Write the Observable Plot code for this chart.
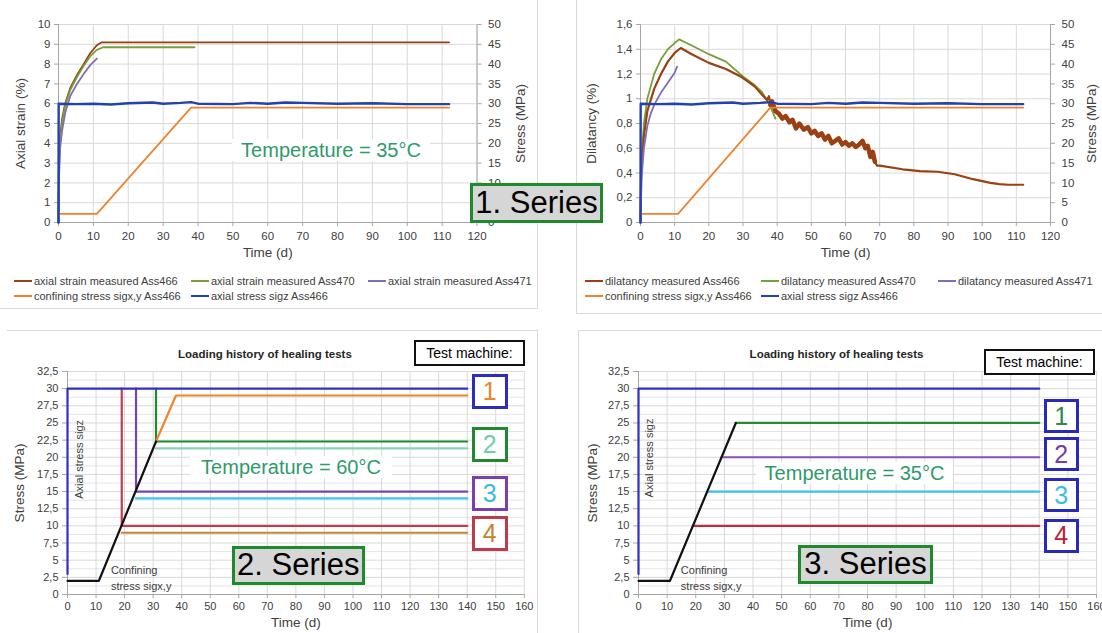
<!DOCTYPE html>
<html>
<head>
<meta charset="utf-8">
<script src="https://cdn.jsdelivr.net/npm/d3@7"></script>
<script src="https://cdn.jsdelivr.net/npm/@observablehq/plot@0.6"></script>
<style>
  html, body { margin: 0; padding: 0; background: #fff; }
  #figure { position: relative; width: 1102px; height: 633px; overflow: hidden; background: #fff;
            font-family: "Liberation Sans", Arial, Helvetica, sans-serif; }
  .chart { position: absolute; }
  .frame-line { position: absolute; background: #dadada; }
  .tag { position: absolute; box-sizing: border-box; display: flex; align-items: center;
         justify-content: center; white-space: nowrap; border-style: solid; }
  .note { position: absolute; background: #fff; text-align: center; white-space: nowrap;
          font-size: 20px; line-height: 22px; height: 22px; }
  .key { position: absolute; height: 14px; display: flex; align-items: center;
         font-size: 11px; color: #404040; white-space: nowrap; }
  .key i { display: block; width: 18px; height: 2px; margin-right: 2px; }
</style>
</head>
<body>
<div id="figure"></div>
<script>
// ---------------- Series 1: creep tests at 35 °C ----------------
const days120 = [0, 10, 20, 30, 40, 50, 60, 70, 80, 90, 100, 110, 120];
const strainTicks = [0, 1, 2, 3, 4, 5, 6, 7, 8, 9, 10];
const dilatancyTicks = [0, 0.2, 0.4, 0.6, 0.8, 1, 1.2, 1.4, 1.6];
const stressTicks50 = [0, 5, 10, 15, 20, 25, 30, 35, 40, 45, 50];

// [time (d), axial strain (%)]
const axialStrainAss466 = [[0,0],[0.1,2.6],[0.3,4.0],[1,5.2],[1.9,6.0],[3.4,6.8],[5.3,7.45],[7.2,8.0],[9.1,8.55],[11,8.95],[12.4,9.1],[112,9.1]];
const axialStrainAss470 = [[0,0],[0.1,2.4],[0.3,3.8],[1,5.0],[1.9,5.9],[3.4,6.7],[5.3,7.35],[7.2,7.9],[9.1,8.4],[11,8.72],[12.8,8.85],[39,8.85]];
const axialStrainAss471 = [[0,0],[0.1,2.0],[0.5,3.8],[1,4.6],[2,5.6],[3.4,6.4],[5.3,7.0],[7.2,7.5],[9.1,7.95],[11,8.28]];

// [time (d), dilatancy (%)]
const dilatancyAss466 = [[0,0],[0.2,0.4],[1,0.7],[2,0.9],[4,1.08],[6,1.2],[8,1.3],[10,1.37],[11.8,1.41],[15,1.36],[20,1.29],[25,1.24],[29.3,1.18],[33.4,1.1],[36,1.02],[37,0.99],[37.6,1.02],[38,0.95],[38.5,0.98],[39.5,0.9],[40.5,0.88],[41.5,0.84],[42.5,0.86],[43.6,0.81],[44.5,0.83],[45.5,0.76],[46.5,0.8],[47.8,0.75],[49,0.77],[50,0.72],[51,0.74],[52,0.7],[53,0.72],[54,0.67],[55,0.7],[56,0.64],[57,0.66],[58,0.68],[59,0.63],[60,0.65],[61,0.62],[62,0.64],[63,0.61],[64,0.63],[65,0.66],[65.8,0.6],[66.5,0.62],[67.3,0.53],[68,0.57],[68.6,0.49],[69.2,0.46],[70,0.46],[76.7,0.43],[81.8,0.415],[87,0.41],[92,0.39],[97.3,0.35],[102.4,0.32],[105,0.31],[107.6,0.305],[112,0.305]];
const dilatancyAss470 = [[0,0],[0.3,0.5],[1,0.8],[2,1.0],[4,1.2],[6,1.32],[8,1.4],[10,1.45],[11.3,1.48],[15,1.43],[20,1.36],[25,1.3],[30,1.18],[33,1.12],[35.4,1.06],[37,0.99],[38.1,0.93],[39.5,0.84]];
const dilatancyAss471 = [[0,0],[0.3,0.35],[1,0.6],[2,0.78],[3,0.88],[4,0.95],[6,1.05],[8,1.13],[10,1.21],[10.7,1.26]];

// [time (d), stress (MPa)] of test Ass466
const axialStressAss466 = [[0,0],[0.05,30],[5,29.9],[10,30],[15,29.8],[20,30.1],[27,30.3],[30,30],[35,30.2],[38,30.4],[40,30],[50,29.9],[55,30.2],[60,30],[65,30.3],[70,30.2],[80,30],[90,30.1],[100,29.9],[112,29.9]];
const confiningStressAss466 = [[0,2.2],[11,2.2],[38,29],[112,29]];

// ---------------- Series 2 (60 °C) and 3 (35 °C): loading histories ----------------
const days160 = [0, 10, 20, 30, 40, 50, 60, 70, 80, 90, 100, 110, 120, 130, 140, 150, 160];
const stressTicks325 = [0, 2.5, 5, 7.5, 10, 12.5, 15, 17.5, 20, 22.5, 25, 27.5, 30, 32.5];
const stressMinor = [1.25, 3.75, 6.25, 8.75, 11.25, 13.75, 16.25, 18.75, 21.25, 23.75, 26.25, 28.75, 31.25];

const s2AxialStress = [[0,3],[0,30],[140,30]];
const s2Confining = [[0,2],[11,2],[31,22.3]];
const s2Machine1 = [[31,22.3],[38,29],[140,29]];
const s2Machine2Axial = [[31,30],[31,22.3],[140,22.3]];
const s2Machine2Lateral = [[31,21.3],[140,21.3]];
const s2Machine3Axial = [[24,30],[24,15],[140,15]];
const s2Machine3Lateral = [[24,14],[140,14]];
const s2Machine4Axial = [[19,30],[19,10],[140,10]];
const s2Machine4Lateral = [[19,9],[140,9]];

const s3AxialStress = [[0,3],[0,30],[140,30]];
const s3Confining = [[0,2],[11,2],[34,25]];
const s3Machine1 = [[34,25],[140,25]];
const s3Machine2 = [[29,20],[140,20]];
const s3Machine3 = [[24,15],[140,15]];
const s3Machine4 = [[19,10],[140,10]];

const machineNumbers = ["1", "2", "3", "4"];

// ---------------- styling ----------------
const FONT = '"Liberation Sans", Arial, Helvetica, sans-serif';
const GRID = "#d9d9d9";
const AXIS = "#a6a6a6";
const INK = "#404040";
const TEAL = "#2e9a6c";
const COL = {ass466: "#9a4012", ass470: "#78a03a", ass471: "#7f6fb5", confining: "#f0822e", axial: "#2142b0"};

const comma = d => String(+(+d).toFixed(2)).replace(".", ",");
const pts = arr => arr.map(([t, v]) => ({t, v}));
const label = d => d;

const fig = document.getElementById("figure");
function el(cls, css, text) {
  const d = document.createElement("div");
  d.className = cls;
  Object.assign(d.style, css);
  if (text != null) d.textContent = text;
  fig.appendChild(d);
  return d;
}
const px = v => v + "px";
function mount(svg, left, top) {
  svg.classList.add("chart");
  svg.style.left = px(left);
  svg.style.top = px(top);
  fig.appendChild(svg);
}

// panel outlines
[[537,0,1,309],[0,308,538,1],[576,0,1,313],[576,313,526,1],[7,330,531,1],[537,330,1,303],[578,330,524,1],[578,330,1,303]]
  .forEach(([l, t, w, h]) => el("frame-line", {left: px(l), top: px(t), width: px(w), height: px(h)}));

// rotated axis title, centred on the frame side
const sideTitle = (text, side, dx) =>
  Plot.text([text], {frameAnchor: side, dx, rotate: -90, textAnchor: "middle", text: label, fontSize: 13.5, fill: INK});

// ---- creep chart with a secondary stress axis on the right ----
function creepChart({width, marginLeft, marginRight, yMax, yTicks, yFormat, yLabel, yLabelDx, rightLabelDx, perMPa, measured}) {
  const toY = d => d.v * perMPa;
  return Plot.plot({
    width, height: 270, marginLeft, marginRight, marginTop: 24, marginBottom: 48,
    style: {fontFamily: FONT, fontSize: "11.5px", color: INK, background: "transparent", overflow: "visible"},
    x: {domain: [0, 120]},
    y: {domain: [0, yMax]},
    marks: [
      Plot.gridX(days120, {stroke: GRID, strokeOpacity: 1}),
      Plot.gridY(yTicks, {stroke: GRID, strokeOpacity: 1}),
      Plot.ruleX([0, 120], {stroke: AXIS}),
      Plot.ruleY([0], {stroke: AXIS}),
      Plot.axisX(days120, {tickSize: 4, tickPadding: 5, stroke: AXIS, fill: INK, label: null}),
      Plot.axisY(yTicks, {anchor: "left", tickSize: 4, tickPadding: 4, tickFormat: yFormat, stroke: AXIS, fill: INK, label: null}),
      Plot.axisY(stressTicks50, {anchor: "right", y: d => d * perMPa, tickFormat: d => String(d), tickSize: 4, tickPadding: 7, stroke: AXIS, fill: INK, label: null}),
      ...measured.flatMap(s => [
        Plot.line(pts(s.data), {x: "t", y: "v", stroke: s.color, strokeWidth: s.width || 1.8}),
        // scatter-heavy stretch of a record drawn as a broader band
        ...(s.band ? [Plot.line(pts(s.data).filter(d => d.t >= s.band[0] && d.t <= s.band[1]),
                                {x: "t", y: "v", stroke: s.color, strokeWidth: 4.5, strokeLinejoin: "round"})] : [])
      ]),
      Plot.line(pts(confiningStressAss466), {x: "t", y: toY, stroke: COL.confining, strokeWidth: 1.8}),
      Plot.line(pts(axialStressAss466), {x: "t", y: toY, stroke: COL.axial, strokeWidth: 2.4}),
      Plot.text(["Time (d)"], {frameAnchor: "bottom", dy: 34, text: label, fontSize: 13.5, fill: INK}),
      sideTitle(yLabel, "left", yLabelDx),
      sideTitle("Stress (MPa)", "right", rightLabelDx)
    ]
  });
}

mount(creepChart({
  width: 540, marginLeft: 58, marginRight: 63.5, yMax: 10, yTicks: strainTicks, yFormat: d => String(d),
  yLabel: "Axial strain (%)", yLabelDx: -38, rightLabelDx: 44, perMPa: 10 / 50,
  measured: [
    {data: axialStrainAss466, color: COL.ass466},
    {data: axialStrainAss470, color: COL.ass470},
    {data: axialStrainAss471, color: COL.ass471}
  ]
}), 0, 0);

mount(creepChart({
  width: 542, marginLeft: 80, marginRight: 52, yMax: 1.6, yTicks: dilatancyTicks, yFormat: comma,
  yLabel: "Dilatancy (%)", yLabelDx: -48.5, rightLabelDx: 41, perMPa: 1.6 / 50,
  measured: [
    {data: dilatancyAss470, color: COL.ass470},
    {data: dilatancyAss466, color: COL.ass466, width: 2.2, band: [38, 68.6]},
    {data: dilatancyAss471, color: COL.ass471}
  ]
}), 560, 0);

// ---- loading history chart ----
function loadingChart({width, marginLeft, marginRight, titleDx, traces, axialAt, confiningAt}) {
  return Plot.plot({
    width, height: 303, marginLeft, marginRight, marginTop: 41, marginBottom: 39,
    style: {fontFamily: FONT, fontSize: "11px", color: INK, background: "transparent", overflow: "visible"},
    x: {domain: [0, 160]},
    y: {domain: [0, 32.5]},
    marks: [
      Plot.gridY(stressMinor, {stroke: "#e4e4e4", strokeOpacity: 1}),
      Plot.gridY(stressTicks325, {stroke: GRID, strokeOpacity: 1}),
      Plot.gridX(days160, {stroke: GRID, strokeOpacity: 1}),
      Plot.ruleX([0], {stroke: AXIS}),
      Plot.ruleY([0], {stroke: AXIS}),
      Plot.axisX(days160, {tickSize: 4, tickPadding: 4, stroke: AXIS, fill: INK, label: null}),
      Plot.axisY(stressTicks325, {tickSize: 5, tickPadding: 4, tickFormat: comma, stroke: AXIS, fill: INK, label: null}),
      ...traces.map(([data, color]) => Plot.line(pts(data), {x: "t", y: "v", stroke: color, strokeWidth: 2.2})),
      Plot.text(["Loading history of healing tests"], {frameAnchor: "top", dx: -31, dy: -21.5, text: label, fontWeight: "bold", fontSize: 11.5, fill: "#262626"}),
      Plot.text(["Axial stress sigz"], {x: axialAt[0], y: axialAt[1], rotate: -90, text: label, fontSize: 11, fill: INK}),
      Plot.text(["Confining\nstress sigx,y"], {x: confiningAt[0], y: confiningAt[1], textAnchor: "start", lineHeight: 1.45, text: label, fontSize: 11, fill: INK}),
      Plot.text(["Time (d)"], {frameAnchor: "bottom", dy: 32, text: label, fontSize: 13.5, fill: INK}),
      sideTitle("Stress (MPa)", "left", titleDx)
    ]
  });
}

mount(loadingChart({
  width: 540, marginLeft: 67, marginRight: 16.2, titleDx: -47.5,
  axialAt: [4.3, 19.7], confiningAt: [15.2, 2.6],
  traces: [
    [s2Machine4Lateral, "#c8862c"], [s2Machine3Lateral, "#44c4f0"], [s2Machine2Lateral, "#86d4b4"],
    [s2Machine4Axial, "#c43a50"], [s2Machine3Axial, "#7a40b4"], [s2Machine2Axial, "#1e8c2c"],
    [s2Machine1, "#f0842c"], [s2Confining, "#111111"], [s2AxialStress, "#3030c8"]
  ]
}), 0, 330);

mount(loadingChart({
  width: 524, marginLeft: 60, marginRight: 6, titleDx: -46.3,
  axialAt: [4.0, 19.9], confiningAt: [14.8, 2.6],
  traces: [
    [s3Machine4, "#c42a3c"], [s3Machine3, "#38c0f0"], [s3Machine2, "#8a52b4"],
    [s3Machine1, "#2a8a3a"], [s3Confining, "#111111"], [s3AxialStress, "#3030c8"]
  ]
}), 578, 330);

// ---- legends ----
const legendCreep = [
  ["axial strain measured Ass466", COL.ass466], ["axial strain measured Ass470", COL.ass470],
  ["axial strain measured Ass471", COL.ass471], ["confining stress sigx,y Ass466", COL.confining],
  ["axial stress sigz Ass466", COL.axial]
];
const legendDilatancy = [
  ["dilatancy measured Ass466", COL.ass466], ["dilatancy measured Ass470", COL.ass470],
  ["dilatancy measured Ass471", COL.ass471], ["confining stress sigx,y Ass466", COL.confining],
  ["axial stress sigz Ass466", COL.axial]
];
function legend(items, cols, rows) {
  items.forEach(([text, color], i) => {
    const k = el("key", {left: px(cols[i % 3]), top: px(rows[Math.floor(i / 3)] - 7)});
    const sw = document.createElement("i");
    sw.style.background = color;
    k.appendChild(sw);
    k.appendChild(document.createTextNode(text));
  });
}
legend(legendCreep, [14, 191, 368], [281, 295.5]);
legend(legendDilatancy, [585, 761, 938], [281, 295.5]);

// ---- annotations ----
el("note", {left: px(232), top: px(139), width: px(198), color: TEAL}, "Temperature = 35°C");
el("note", {left: px(190), top: px(456), width: px(202), color: TEAL}, "Temperature = 60°C");
el("note", {left: px(756), top: px(461.5), width: px(197), color: TEAL}, "Temperature = 35°C");

function tag(left, top, w, h, text, {border, bw = 3, bg = "#fff", color = "#000", size = 24}) {
  return el("tag", {left: px(left), top: px(top), width: px(w), height: px(h), borderColor: border,
    borderWidth: px(bw), background: bg, color, fontSize: px(size)}, text);
}
tag(470, 183, 133, 40, "1. Series", {border: "#1f8a2a", bg: "#d6d6d6", size: 31});
tag(231.5, 545.5, 133.5, 39, "2. Series", {border: "#1f8a2a", bg: "#d6d6d6", size: 31});
tag(798, 544.5, 135, 39, "3. Series", {border: "#1f8a2a", bg: "#d6d6d6", size: 31});

tag(414, 340, 111, 26, "Test machine:", {border: "#111", bw: 2.5, size: 14});
tag(984, 349, 111, 25.5, "Test machine:", {border: "#111", bw: 2.5, size: 14});

const s2Boxes = [["#2c2cc0", "#f0842c"], ["#1f8a2a", "#6fcfa8"], ["#7b3fb0", "#3cb8e8"], ["#c03a4e", "#c8822a"]];
const s2Tops = [374.3, 426.7, 476, 515.7];
machineNumbers.forEach((n, i) => tag(471.7, s2Tops[i], 36, 35, n, {border: s2Boxes[i][0], color: s2Boxes[i][1], size: 25}));

const s3Colors = ["#2f8a4a", "#7a3aa8", "#3cbde8", "#c0202e"];
const s3Tops = [399, 437.3, 478.3, 518.7];
machineNumbers.forEach((n, i) => tag(1044, s3Tops[i], 34.5, 34, n, {border: "#2a2ab8", color: s3Colors[i], size: 25}));
</script>
</body>
</html>
